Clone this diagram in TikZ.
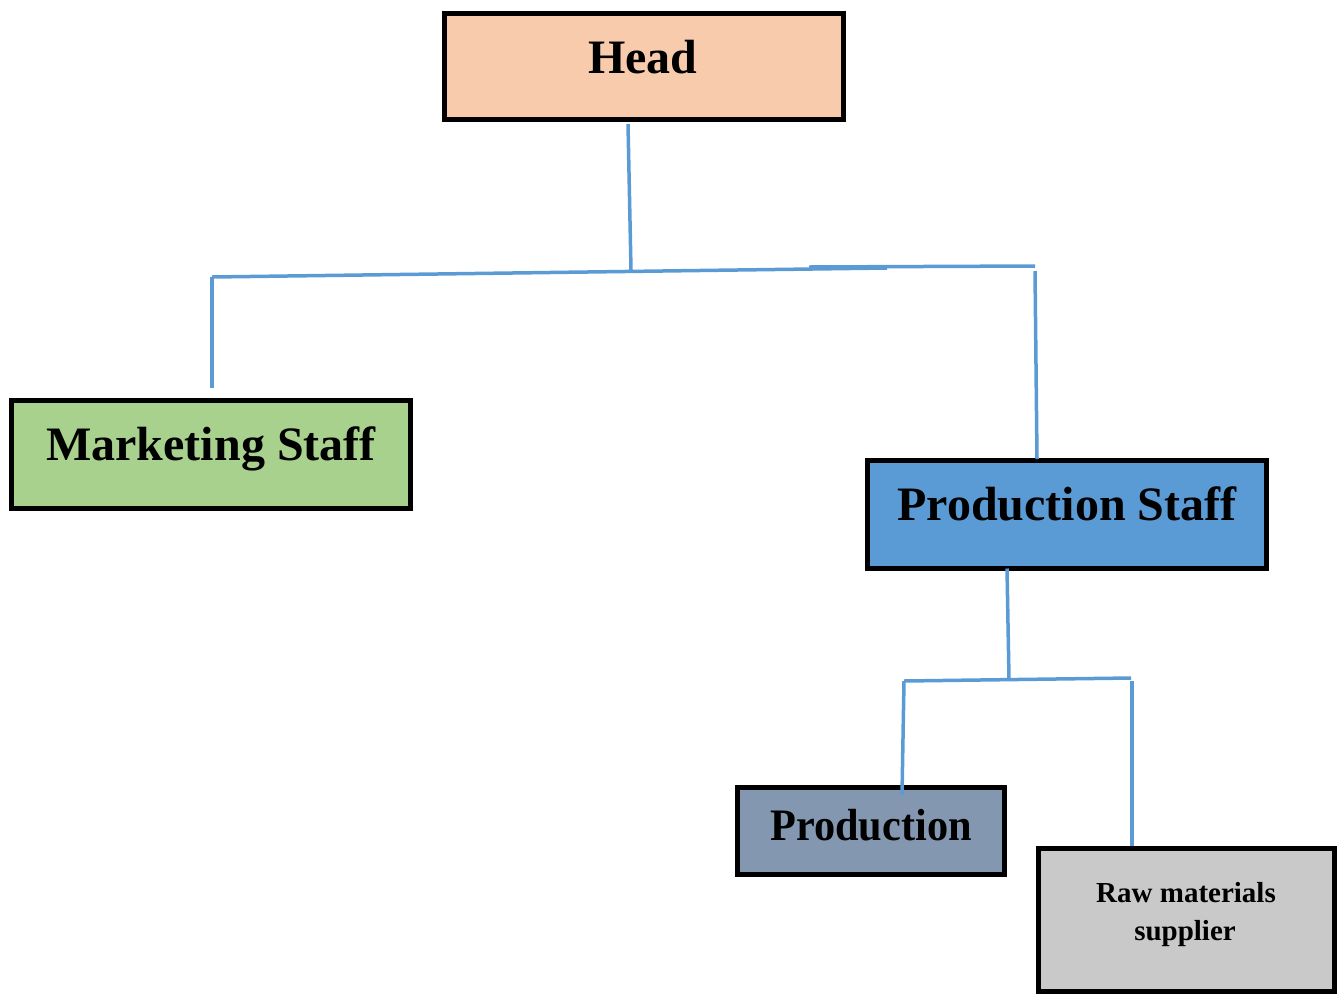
\documentclass[tikz,border=0pt]{standalone}
\usepackage{fontspec}
\setmainfont{Liberation Serif}
\definecolor{headfill}{HTML}{F8CBAD}
\definecolor{mktfill}{HTML}{A9D18E}
\definecolor{psfill}{HTML}{5B9BD5}
\definecolor{prodfill}{HTML}{8497B0}
\definecolor{rawfill}{HTML}{C9C9C9}
\definecolor{linkblue}{HTML}{5B9BD5}
\begin{document}
\begin{tikzpicture}[x=1pt,y=-1pt,
  box/.style={draw=black,line width=4.5pt,inner sep=0pt,outer sep=0pt},
  lbl/.style={inner sep=0pt,anchor=base,font=\bfseries},
  link/.style={draw=linkblue,line width=3.5pt}]
\useasboundingbox (0,0) rectangle (1341,994);
% boxes
\node[box,fill=headfill,minimum width=399pt,minimum height=106pt] (head) at (644,66.5) {};
\node[box,fill=mktfill,minimum width=399pt,minimum height=108pt] (mkt) at (211,454.5) {};
\node[box,fill=psfill,minimum width=399pt,minimum height=108pt] (ps) at (1067,514.5) {};
\node[box,fill=prodfill,minimum width=267pt,minimum height=87pt] (prod) at (871,831) {};
\node[box,fill=rawfill,minimum width=296pt,minimum height=143pt] (raw) at (1186.5,920) {};
% labels
\node[lbl,font=\fontsize{48}{50}\selectfont\bfseries] (headt) at (643,73) {Head};
\node[lbl,font=\fontsize{48}{50}\selectfont\bfseries] (mktt) at (211,460) {Marketing Staff};
\node[lbl,font=\fontsize{48}{50}\selectfont\bfseries] (pst) at (1067,520) {Production Staff};
\node[lbl,font=\fontsize{45}{47}\selectfont\bfseries,xscale=0.94] (prodt) at (871,840) {Production};
\node[lbl,font=\fontsize{29}{31}\selectfont\bfseries] (rawt1) at (1186,902) {Raw materials};
\node[lbl,font=\fontsize{29}{31}\selectfont\bfseries] (rawt2) at (1185,940) {supplier};
% connector points
\coordinate (h2) at (631,270);
\coordinate (l1) at (212,277);
\coordinate (l2) at (887,268);
\coordinate (r0) at (809,267);
\coordinate (r1) at (1035,266);
\coordinate (r2) at (1035,271);
\coordinate (m1) at (212,388);
\coordinate (p1) at (1007,569);
\coordinate (p2) at (1009,679);
\coordinate (q1) at (904,681);
\coordinate (q2) at (1131,678);
\coordinate (q3) at (1132,681);
\coordinate (q4) at (902,795);
% connectors
\draw[link] (628,124) -- (h2);
\draw[link] (l1) -- (l2);
\draw[link] (r0) -- (r1);
\draw[link] (l1) -- (m1);
\draw[link] (r2) -- (1037,459) coordinate (psin);
\draw[link] (ps.south -| p1) -- (p2);
\draw[link] (q1) -- (q2);
\draw[link] (q1) -- (q4);
\draw[link] (q3) -- (1132,846);
\end{tikzpicture}
\end{document}
